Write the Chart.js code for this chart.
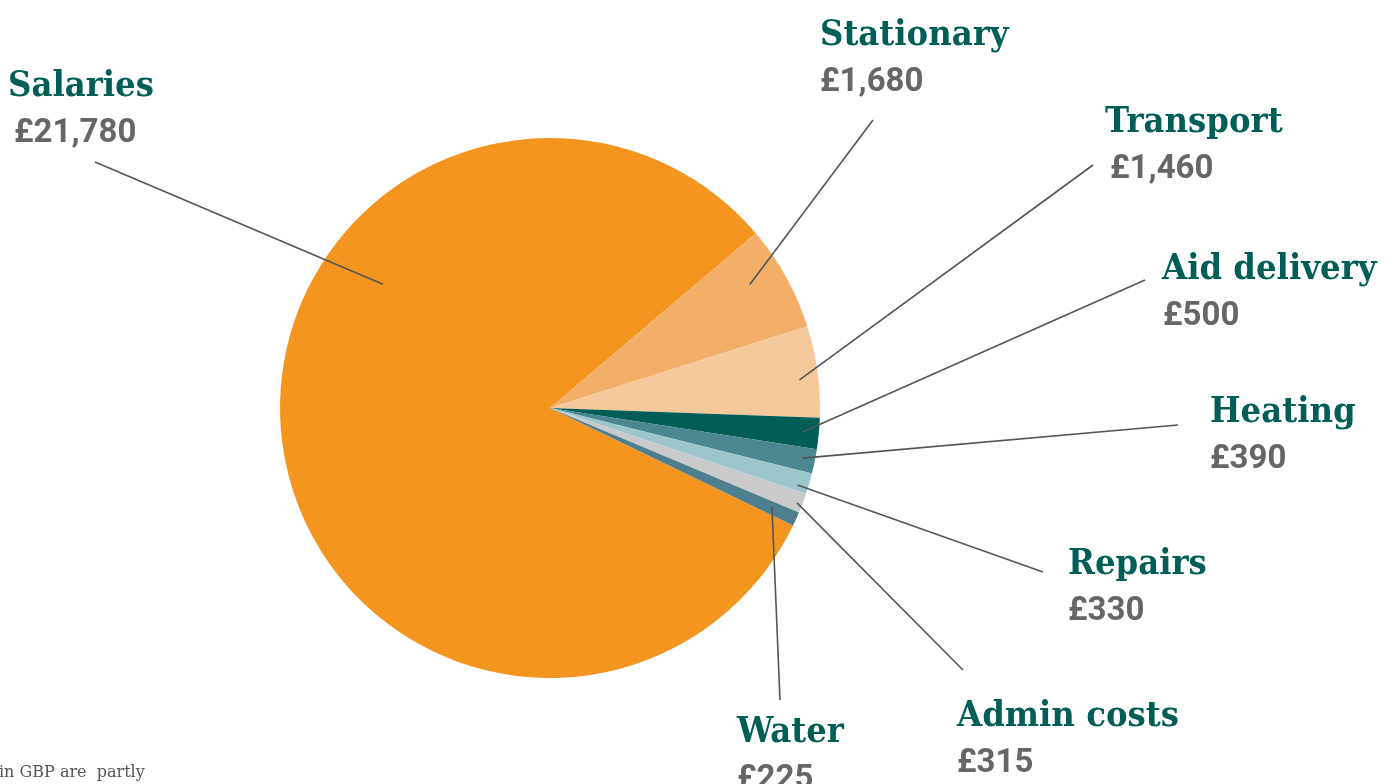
<!DOCTYPE html>
<html>
<head>
<meta charset="utf-8">
<script src="https://cdn.jsdelivr.net/npm/chart.js@4.4.1/dist/chart.umd.min.js"></script>
<style>
  html, body { margin: 0; padding: 0; background: #fff; overflow: hidden; }
</style>
</head>
<body>
<canvas id="budgetPie" width="1395" height="784"></canvas>
<script>
// ── Data ─────────────────────────────────────────────
const categories = ["Salaries", "Stationary", "Transport", "Aid delivery", "Heating", "Repairs", "Admin costs", "Water"];
const amounts = [21780, 1680, 1460, 500, 390, 330, 315, 225];
const sliceColors = ["#F4951F", "#F3AE67", "#F6C99C", "#005E57", "#4B8791", "#9DC6CC", "#CACACA", "#4D7F8E"];

const fmtGBP = (v) => "£" + v.toLocaleString("en-GB");

// label placement: text left/baseline, leader end, and where the leader
// touches the slice (t = fraction along the arc, k = fraction of radius)
const labelLayout = [
  { x: 8,    y: 96,  dx: 6, lx: 95,   ly: 162, t: 0.649, k: 0.77 },
  { x: 820,  y: 45,  dx: 0, lx: 873,  ly: 120, t: 0.38,  k: 0.87 },
  { x: 1105, y: 132, dx: 5, lx: 1093, ly: 165, t: 0.57,  k: 0.93 },
  { x: 1162, y: 279, dx: 1, lx: 1145, ly: 280, t: 0.5,   k: 0.94 },
  { x: 1210, y: 422, dx: 0, lx: 1178, ly: 425, t: 0.46,  k: 0.955 },
  { x: 1068, y: 574, dx: 0, lx: 1043, ly: 572, t: 0.72,  k: 0.96 },
  { x: 957,  y: 726, dx: 0, lx: 963,  ly: 670, t: 0.59,  k: 0.98 },
  { x: 737,  y: 742, dx: 0, lx: 780,  ly: 700, t: 0.41,  k: 0.9 },
];

const nameFont = "bold 36px 'DejaVu Serif Condensed', 'DejaVu Serif'";
const valueFont = "bold 33px Roboto, 'DejaVu Sans'";

const leaderLabels = {
  id: "leaderLabels",
  afterDraw(chart) {
    const ctx = chart.ctx;
    const arcs = chart.getDatasetMeta(0).data;
    ctx.save();
    arcs.forEach((arc, i) => {
      const p = arc.getProps(["x", "y", "startAngle", "endAngle", "outerRadius"], true);
      const L = labelLayout[i];
      const a = p.startAngle + L.t * (p.endAngle - p.startAngle);
      const r = L.k * p.outerRadius;
      ctx.beginPath();
      ctx.moveTo(p.x + r * Math.cos(a), p.y + r * Math.sin(a));
      ctx.lineTo(L.lx, L.ly);
      ctx.strokeStyle = "#555555";
      ctx.lineWidth = 1.6;
      ctx.stroke();

      ctx.textAlign = "left";
      ctx.textBaseline = "alphabetic";
      ctx.font = nameFont;
      ctx.fillStyle = "#005E57";
      ctx.fillText(categories[i], L.x, L.y);
      ctx.font = valueFont;
      ctx.fillStyle = "#666666";
      ctx.fillText(fmtGBP(amounts[i]), L.x + L.dx, L.y + 46);
    });
    // footnote fragment at the bottom-left edge
    ctx.font = "16px 'DejaVu Serif'";
    ctx.fillStyle = "#555555";
    ctx.fillText("in GBP are  partly", -1, 777);
    ctx.restore();
  },
};

new Chart(document.getElementById("budgetPie"), {
  type: "pie",
  data: {
    labels: categories,
    datasets: [{
      data: amounts,
      backgroundColor: sliceColors,
      borderWidth: 0,
    }],
  },
  options: {
    responsive: false,
    animation: false,
    rotation: 115.8,
    layout: { padding: { left: 280, right: 575, top: 138, bottom: 106 } },
    plugins: {
      legend: { display: false },
      tooltip: { enabled: false },
    },
  },
  plugins: [leaderLabels],
});
</script>
</body>
</html>
